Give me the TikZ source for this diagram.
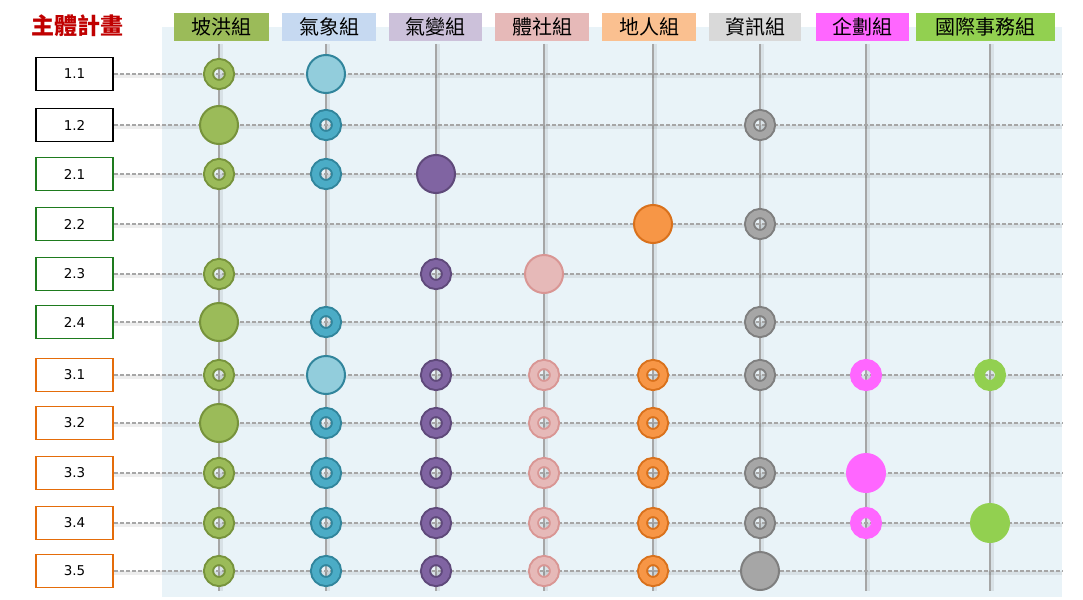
\documentclass[tikz,border=0pt]{standalone}
\usepackage{fontspec}
\setmainfont{DejaVu Sans}
\newfontfamily\cjk{Noto Sans CJK TC}
\usepackage{tikz}
\usetikzlibrary{positioning}
\definecolor{planpanel}{HTML}{E9F3F8}
\definecolor{planred}{HTML}{C00000}
\definecolor{planline}{HTML}{A6A6A6}
\definecolor{plangreen}{HTML}{1E7B1E}
\definecolor{planorange}{HTML}{E46C0A}
% 各組顏色：hd 標題、本色、dk 外框、bg 大圓
\definecolor{gpohonghd}{HTML}{9BBB59}\definecolor{gpohong}{HTML}{9BBB59}\definecolor{gpohongdk}{HTML}{77933C}\colorlet{gpohongbg}{gpohong}
\definecolor{gqixianghd}{HTML}{C6D9F1}\definecolor{gqixiang}{HTML}{4BACC6}\definecolor{gqixiangdk}{HTML}{31859C}\definecolor{gqixiangbg}{HTML}{92CDDC}
\definecolor{gqibianhd}{HTML}{CCC1DA}\definecolor{gqibian}{HTML}{8064A2}\definecolor{gqibiandk}{HTML}{5F497A}\colorlet{gqibianbg}{gqibian}
\definecolor{gtishehd}{HTML}{E6B9B8}\definecolor{gtishe}{HTML}{E6B9B8}\definecolor{gtishedk}{HTML}{D99694}\colorlet{gtishebg}{gtishe}
\definecolor{gdirenhd}{HTML}{FAC090}\definecolor{gdiren}{HTML}{F79646}\definecolor{gdirendk}{HTML}{D9711C}\colorlet{gdirenbg}{gdiren}
\definecolor{gzixunhd}{HTML}{D9D9D9}\definecolor{gzixun}{HTML}{A6A6A6}\definecolor{gzixundk}{HTML}{7F7F7F}\colorlet{gzixunbg}{gzixun}
\definecolor{gqihuahd}{HTML}{FF66FF}\definecolor{gqihua}{HTML}{FF66FF}\colorlet{gqihuadk}{gqihua}\colorlet{gqihuabg}{gqihua}
\definecolor{gguojihd}{HTML}{92D050}\definecolor{gguoji}{HTML}{92D050}\colorlet{gguojidk}{gguoji}\colorlet{gguojibg}{gguoji}

\begin{document}
\begin{tikzpicture}[x=1pt,y=-1pt,line cap=butt,
  hd/.style={fill=#1hd,minimum height=28,inner sep=0pt,font=\cjk\fontsize{20}{20}\selectfont},
  plan/.style={draw=#1,fill=white,line width=1.8,minimum width=77,minimum height=33,inner sep=0pt,font=\fontsize{13.5}{14}\selectfont},
  ring/.style={circle,minimum size=21,inner sep=0pt,draw=#1dk,double=#1,double distance=7,line width=2},
  big/.style={circle,minimum size=38,inner sep=0pt,draw=#1dk,fill=#1bg,line width=2},
  hline/.style={draw=planline,line width=1.5,dash pattern=on 4pt off 2pt},
  vline/.style={draw=planline,line width=2},
  lshadow/.style={draw=black,opacity=.07,line width=4}]
\path[use as bounding box] (0,0) rectangle (1083,599);
\fill[white] (0,0) rectangle (1083,599);
\fill[planpanel] (162,27) rectangle (1062,597);

% 標題列
\node[font=\cjk\bfseries\fontsize{23}{23}\selectfont,text=planred] (title) at (77,26) {主體計畫};
\foreach \n/\t/\c/\w/\x in {h1/坡洪組/gpohong/95/221.5,h2/氣象組/gqixiang/94/329,h3/氣變組/gqibian/93/435.5,
    h4/體社組/gtishe/94/542,h5/地人組/gdiren/94/649,h6/資訊組/gzixun/92/755,
    h7/企劃組/gqihua/93/862.5,h8/國際事務組/gguoji/139/985.5}
  \node[hd=\c,minimum width=\w] (\n) at (\x,27) {\t};

% 直線（各組）
\foreach \i/\x in {1/219,2/326,3/436,4/544,5/653,6/760,7/866,8/990} {
  \coordinate (c\i) at (\x,44);
  \coordinate (c\i b) at (\x,591);
  \draw[lshadow] ([xshift=2pt]c\i) -- ([xshift=2pt]c\i b);
  \draw[vline] (c\i) -- (c\i b);
}

% 主體計畫與虛線
\foreach \n/\t/\c/\y in {p11/1.1/black/74,p12/1.2/black/125,p21/2.1/plangreen/174,p22/2.2/plangreen/224,
    p23/2.3/plangreen/274,p24/2.4/plangreen/322,p31/3.1/planorange/375,p32/3.2/planorange/423,
    p33/3.3/planorange/473,p34/3.4/planorange/523,p35/3.5/planorange/571} {
  \node[plan=\c] (\n) at (74.5,\y) {\t};
  \coordinate (\n e) at (1062,\y);
  \draw[lshadow] ([yshift=-2pt]\n.east) -- ([yshift=-2pt]\n e);
  \draw[hline] (\n.east) -- (\n e);
}

% 參與程度
\foreach \r/\k in {p11/ring,p12/big,p21/ring,p23/ring,p24/big,p31/ring,p32/big,p33/ring,p34/ring,p35/ring}
  \node[\k=gpohong] at (c1 |- \r) {};
\foreach \r/\k in {p11/big,p12/ring,p21/ring,p24/ring,p31/big,p32/ring,p33/ring,p34/ring,p35/ring}
  \node[\k=gqixiang] at (c2 |- \r) {};
\foreach \r/\k in {p21/big,p23/ring,p31/ring,p32/ring,p33/ring,p34/ring,p35/ring}
  \node[\k=gqibian] at (c3 |- \r) {};
\foreach \r/\k in {p23/big,p31/ring,p32/ring,p33/ring,p34/ring,p35/ring}
  \node[\k=gtishe] at (c4 |- \r) {};
\foreach \r/\k in {p22/big,p31/ring,p32/ring,p33/ring,p34/ring,p35/ring}
  \node[\k=gdiren] at (c5 |- \r) {};
\foreach \r/\k in {p12/ring,p22/ring,p24/ring,p31/ring,p33/ring,p34/ring,p35/big}
  \node[\k=gzixun] at (c6 |- \r) {};
\foreach \r/\k in {p31/ring,p33/big,p34/ring}
  \node[\k=gqihua] at (c7 |- \r) {};
\foreach \r/\k in {p31/ring,p34/big}
  \node[\k=gguoji] at (c8 |- \r) {};
\end{tikzpicture}
\end{document}
